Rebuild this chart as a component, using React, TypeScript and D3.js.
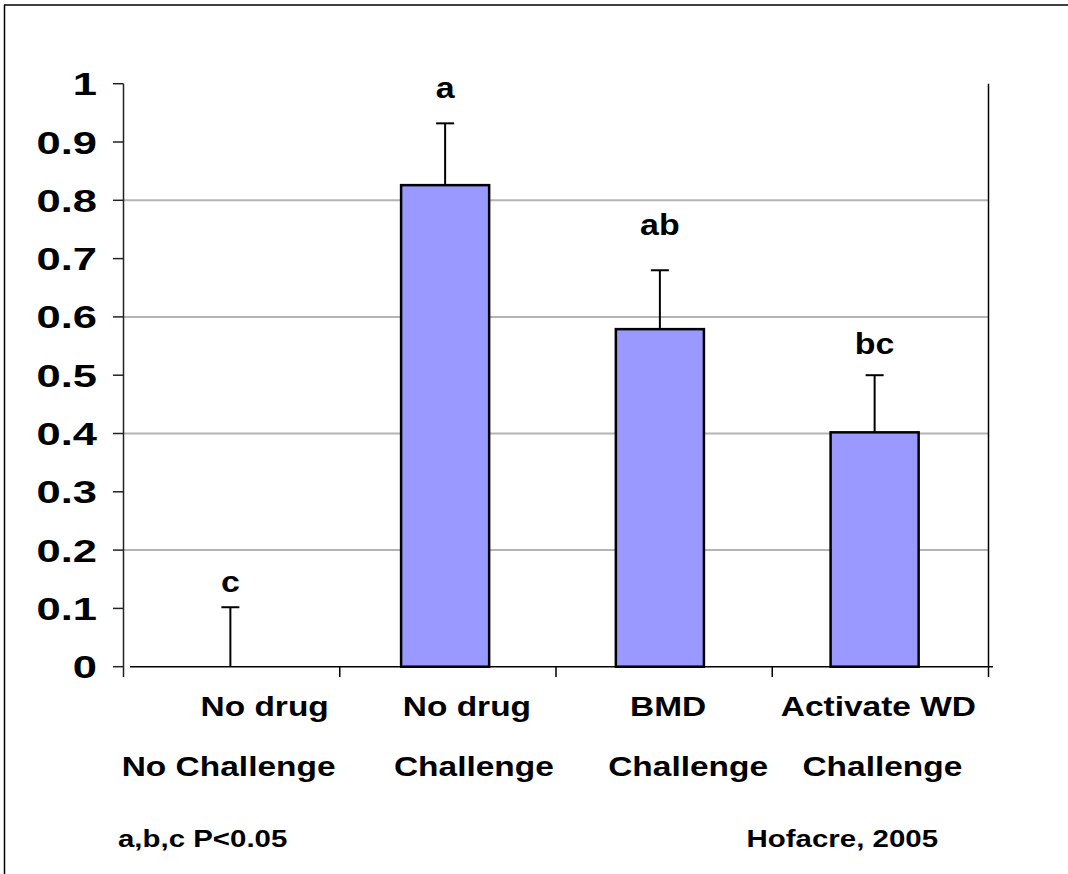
import React from "react";
import * as d3 from "d3";

const categoriesTop = ["No drug", "No drug", "BMD", "Activate WD"];
const categoriesBottom = ["No Challenge", "Challenge", "Challenge", "Challenge"];
const means = [0, 0.826, 0.579, 0.402];
const errors = [0.102, 0.106, 0.101, 0.098];
const sigLetters = ["c", "a", "ab", "bc"];
const yTicks = [0, 0.1, 0.2, 0.3, 0.4, 0.5, 0.6, 0.7, 0.8, 0.9, 1];
const gridTicks = [0.2, 0.4, 0.6, 0.8];
const footLeft = "a,b,c P<0.05";
const footRight = "Hofacre, 2005";

// layout (not data)
const W = 1068;
const H = 874;
const FONT = "'Liberation Sans', Arial, Helvetica, sans-serif";
const SX = 1.28; // horizontal stretch of the original text
const topLabelShift = [33, 19, 4, -2];
const bottomLabelShift = [-3, 26, 24, 2];
const letterGap = [15.5, 25, 35.5, 21.5];

function SText(props: {
  x: number;
  y: number;
  size: number;
  sx?: number;
  anchor?: "start" | "middle" | "end";
  children: React.ReactNode;
}) {
  return (
    <g transform={`translate(${props.x},${props.y}) scale(${props.sx || SX},1)`}>
      <text
        x={0}
        y={0}
        textAnchor={props.anchor || "start"}
        fontSize={props.size}
        fill="#000"
      >
        {props.children}
      </text>
    </g>
  );
}

export default function App() {
  const plotLeft = 123.5;
  const plotRight = 988.5;
  const y = d3.scaleLinear().domain([0, 1]).range([666.7, 83.7]);
  const xFrame = d3
    .scaleBand<number>()
    .domain(d3.range(categoriesTop.length))
    .range([plotLeft, plotRight]);
  const xBars = d3
    .scaleBand<number>()
    .domain(d3.range(categoriesTop.length))
    .range([123, 982])
    .paddingInner(0.59)
    .paddingOuter(0.295);
  const cx = (i: number) => (xBars(i) as number) + xBars.bandwidth() / 2;
  const labelX = (i: number) => (xFrame(i) as number) + xFrame.bandwidth() / 2;

  return (
    <svg
      width={W}
      height={H}
      style={{ position: "fixed", left: 0, top: 0, background: "#fff" }}
      fontFamily={FONT}
      fontWeight="bold"
    >
      <rect x={0} y={0} width={W} height={H} fill="#fff" />
      {/* outer frame (top and left visible) */}
      <line x1={4} y1={5} x2={W} y2={5} stroke="#000" strokeWidth={1.5} />
      <line x1={4.5} y1={5} x2={4.5} y2={H} stroke="#000" strokeWidth={1.5} />

      {/* gridlines */}
      {gridTicks.map((t) => (
        <line
          key={"g" + t}
          x1={plotLeft}
          x2={plotRight}
          y1={y(t)}
          y2={y(t)}
          stroke="#b4b4b4"
          strokeWidth={2}
        />
      ))}

      {/* right frame line */}
      <line x1={plotRight} x2={plotRight} y1={y(1)} y2={677} stroke="#000" strokeWidth={1.5} />

      {/* y axis */}
      <line x1={plotLeft} x2={plotLeft} y1={y(1)} y2={677} stroke="#222" strokeWidth={1.5} />
      {yTicks.map((t) => (
        <g key={"t" + t}>
          <line x1={113} x2={plotLeft} y1={y(t)} y2={y(t)} stroke="#222" strokeWidth={1.5} />
          <SText x={97} y={y(t) + 11.5} size={32} sx={1.36} anchor="end">
            {d3.format("")(t)}
          </SText>
        </g>
      ))}

      {/* bars */}
      {means.map((m, i) => (
        <g key={"b" + i}>
          {m > 0 && (
            <rect
              x={xBars(i)}
              y={y(m)}
              width={xBars.bandwidth()}
              height={y(0) - y(m)}
              fill="#9999ff"
              stroke="#000"
              strokeWidth={2.5}
            />
          )}
          <line
            x1={cx(i)}
            x2={cx(i)}
            y1={y(m)}
            y2={y(m + errors[i])}
            stroke="#000"
            strokeWidth={2}
          />
          <line
            x1={cx(i) - 9}
            x2={cx(i) + 9}
            y1={y(m + errors[i])}
            y2={y(m + errors[i])}
            stroke="#000"
            strokeWidth={2}
          />
          <SText
            x={cx(i)}
            y={y(m + errors[i]) - letterGap[i]}
            size={29}
            sx={1.17}
            anchor="middle"
          >
            {sigLetters[i]}
          </SText>
        </g>
      ))}

      {/* x axis */}
      <line x1={130} x2={993} y1={y(0)} y2={y(0)} stroke="#000" strokeWidth={1.5} />
      {d3.range(1, categoriesTop.length).map((i) => (
        <line
          key={"xt" + i}
          x1={xFrame(i)}
          x2={xFrame(i)}
          y1={y(0)}
          y2={677}
          stroke="#000"
          strokeWidth={1.5}
        />
      ))}

      {/* category labels */}
      {categoriesTop.map((c, i) => (
        <SText key={"c1" + i} x={labelX(i) + topLabelShift[i]} y={716} size={27} sx={1.24} anchor="middle">
          {c}
        </SText>
      ))}
      {categoriesBottom.map((c, i) => (
        <SText key={"c2" + i} x={labelX(i) + bottomLabelShift[i]} y={776} size={27} sx={1.24} anchor="middle">
          {c}
        </SText>
      ))}

      {/* footnotes */}
      <SText x={118} y={847} size={23}>
        {footLeft}
      </SText>
      <SText x={938} y={847} size={23} anchor="end">
        {footRight}
      </SText>
    </svg>
  );
}
